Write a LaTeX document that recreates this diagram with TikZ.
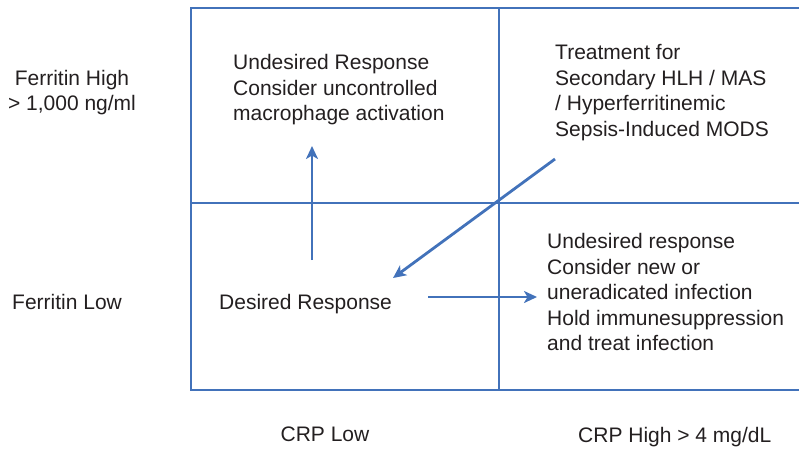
\documentclass[tikz,border=0pt]{standalone}
\usepackage{fontspec}
\setmainfont{Liberation Sans}
\usetikzlibrary{arrows.meta}
\definecolor{gridblue}{RGB}{66,114,186}
\definecolor{txt}{RGB}{35,31,32}
\tikzset{
  gridline/.style={draw=gridblue, line width=2.8pt},
  flow/.style={draw=gridblue, line width=2.8pt, -{Stealth[length=13pt,width=12pt,inset=3.5pt]}},
  lbl/.style={inner sep=0pt, text=txt, font=\fontsize{21}{25.5}\selectfont, align=left, anchor=north west},
  clbl/.style={lbl, align=center, anchor=north}
}
\begin{document}
\begin{tikzpicture}[x=1pt,y=-1pt]
\useasboundingbox (0,0) rectangle (799,448);
% grid
\draw[gridline] (799,8) -- (191,8) -- (191,390) -- (799,390);
\draw[gridline] (499,8) -- (499,390);
\draw[gridline] (191,203) -- (799,203);
% labels
\node[clbl] (fhigh) at (72,70) {Ferritin High\\> 1,000 ng/ml};
\node[lbl] (flow) at (12,294) {Ferritin Low};
\node[clbl] (crplow) at (325,427) {CRP Low};
\node[lbl] (crphigh) at (578,427) {CRP High > 4 mg/dL};
% quadrant texts
\node[lbl] (q1) at (233,54.5) {Undesired Response\\Consider uncontrolled\\macrophage activation};
\node[lbl] (q2) at (555,44.5) {Treatment for\\Secondary HLH / MAS\\/ Hyperferritinemic\\Sepsis-Induced MODS};
\node[lbl] (q3) at (219,294.5) {Desired Response};
\node[lbl] (q4) at (547,233.5) {Undesired response\\Consider new or\\uneradicated infection\\Hold immunesuppression\\and treat infection};
% arrow ends
\coordinate (upS) at (312,260);
\coordinate (upE) at (312,146);
\coordinate (dgS) at (555,159);
\coordinate (dgE) at (393,278);
\coordinate (hzS) at (428,297);
\coordinate (hzE) at (537,297);
\draw[flow] (upS) -- (upE);
\draw[flow] (dgS) -- (dgE);
\draw[flow] (hzS) -- (hzE);
\end{tikzpicture}
\end{document}
